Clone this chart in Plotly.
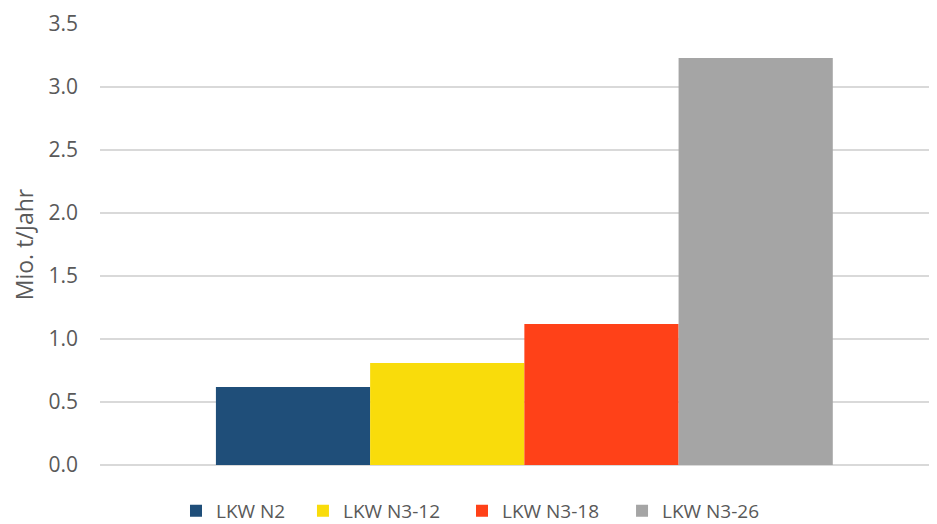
"""
Mio. t/Jahr nach LKW-Klasse
"""

import plotly.graph_objects as go

# series names, values and colours
series_names = ['LKW N2', 'LKW N3-12', 'LKW N3-18', 'LKW N3-26']
series_values = [0.62, 0.81, 1.12, 3.23]
series_colors = ['#1F4E79', '#F9DC0B', '#FF4118', '#A5A5A5']

tick_vals = [0, 0.5, 1.0, 1.5, 2.0, 2.5, 3.0, 3.5]

# left edge of each legend entry (paper x), one legend per series to match spacing
legend_x = [0.0908, 0.2425, 0.4325, 0.6237]
legend_ids = ['legend', 'legend2', 'legend3', 'legend4']

fig = go.Figure()

# one bar trace per series, all in a single category
for name, value, color, lid in zip(series_names, series_values, series_colors, legend_ids):
    fig.add_trace(go.Bar(x=[''], y=[value], name=name, marker_color=color,
                         marker_line_width=0, legend=lid, showlegend=True))

# the page body adds an 8px offset, so margins are shifted by that
fig.update_layout(
    width=937, height=524, showlegend=True,
    margin=dict(l=92, r=8, t=16, b=67, autoexpand=False),
    paper_bgcolor='white', plot_bgcolor='white',
    barmode='group', bargap=0.263, bargroupgap=0,
    font=dict(family='Open Sans, sans-serif', size=19, color='#595959'),
)

for lid, lx in zip(legend_ids, legend_x):
    fig.update_layout({lid: dict(orientation='h', x=lx, xanchor='left', y=-0.104, yanchor='middle',
                                 font=dict(size=19, color='#595959'), itemwidth=30,
                                 bgcolor='rgba(0,0,0,0)')})

fig.update_xaxes(showticklabels=False, showgrid=False, showline=False, range=[-0.507, 0.493])
fig.update_yaxes(range=[0, 3.5], tickvals=tick_vals, tickformat='.1f',
                 showgrid=True, gridcolor='#D9D9D9', gridwidth=1.5,
                 zeroline=True, zerolinecolor='#D9D9D9', zerolinewidth=1.5,
                 ticks='', ticklabelstandoff=21, tickfont=dict(size=21),
                 title=dict(text='Mio. t/Jahr', font=dict(size=23, color='#595959'), standoff=9))

fig.write_html("out.html")
